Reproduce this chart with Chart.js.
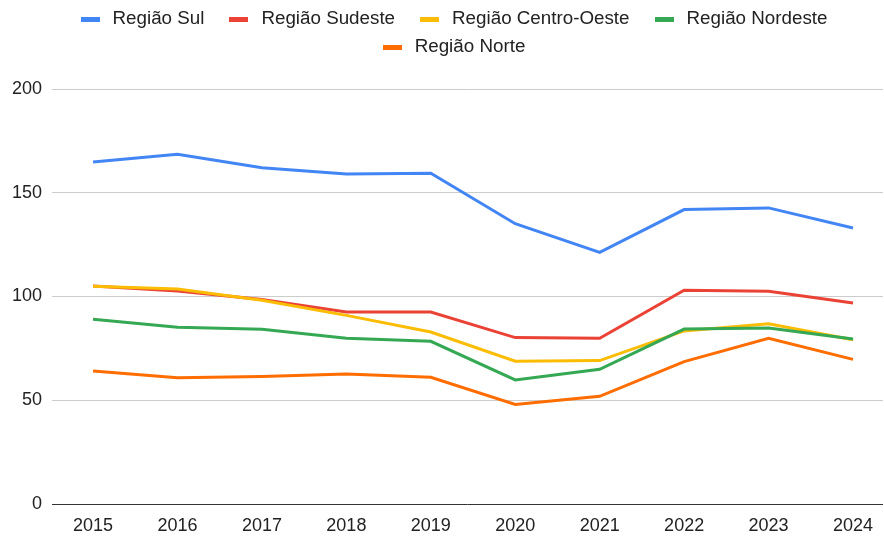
<!DOCTYPE html>
<html>
<head>
<meta charset="utf-8">
<script src="https://cdn.jsdelivr.net/npm/chart.js@4/dist/chart.umd.min.js"></script>
<style>
  body { margin: 0; background: #fff; }
</style>
</head>
<body>
<canvas id="chart" width="884" height="536"></canvas>
<script>
// Anos (eixo X)
const anos = [2015, 2016, 2017, 2018, 2019, 2020, 2021, 2022, 2023, 2024];

// Séries por região
const regiaoSul = [164.8, 168.5, 162.1, 159.0, 159.4, 135.1, 121.3, 141.9, 142.7, 133.0];
const regiaoSudeste = [105.1, 102.7, 98.5, 92.5, 92.5, 80.2, 79.9, 103.0, 102.5, 96.9];
const regiaoCentroOeste = [104.9, 103.6, 98.2, 90.9, 82.9, 68.8, 69.1, 83.4, 86.9, 79.2];
const regiaoNordeste = [89.0, 85.2, 84.2, 79.9, 78.4, 59.8, 64.9, 84.3, 84.8, 79.5];
const regiaoNorte = [64.1, 60.9, 61.4, 62.7, 61.1, 48.0, 51.9, 68.6, 79.9, 69.7];

// Ticks do eixo Y
const ticksY = [0, 50, 100, 150, 200];

const series = [
    { label: 'Região Sul', valores: regiaoSul, cor: '#4285F4' },
    { label: 'Região Sudeste', valores: regiaoSudeste, cor: '#EA4335' },
    { label: 'Região Centro-Oeste', valores: regiaoCentroOeste, cor: '#FBBC04' },
    { label: 'Região Nordeste', valores: regiaoNordeste, cor: '#34A853' },
    { label: 'Região Norte', valores: regiaoNorte, cor: '#FF6D01' }
];

const fonte = '"Liberation Sans", Arial, sans-serif';
Chart.defaults.font.family = fonte;
Chart.defaults.color = '#222';

// Legenda em duas linhas, no estilo do Google Charts
const legendaPlugin = {
    id: 'legendaGoogle',
    afterDraw(chart) {
        const c = chart.ctx;
        const caixaL = 19, caixaA = 5, espacoTexto = 13, espacoItem = 25;
        const larguraMax = chart.width - 60;
        const centro = 454;
        const linhasY = [19, 47];
        c.save();
        c.font = '18.8px ' + fonte;
        c.textBaseline = 'middle';
        // monta as linhas
        const linhas = [[]];
        let largura = 0;
        chart.data.datasets.forEach(ds => {
            const w = caixaL + espacoTexto + c.measureText(ds.label).width;
            const atual = linhas[linhas.length - 1];
            if (atual.length && largura + espacoItem + w > larguraMax) {
                linhas.push([]);
                largura = 0;
            }
            largura += (linhas[linhas.length - 1].length ? espacoItem : 0) + w;
            linhas[linhas.length - 1].push({ ds, w });
        });
        linhas.forEach((linha, li) => {
            const total = linha.reduce((s, it) => s + it.w, 0) + espacoItem * (linha.length - 1);
            let x = centro - total / 2;
            const y = linhasY[li] || (linhasY[0] + li * 28);
            linha.forEach(it => {
                c.fillStyle = it.ds.borderColor;
                c.fillRect(Math.round(x), Math.round(y - caixaA / 2), caixaL, caixaA);
                c.fillStyle = '#222';
                c.fillText(it.ds.label, x + caixaL + espacoTexto, y);
                x += it.w + espacoItem;
            });
        });
        c.restore();
    }
};

const ctx = document.getElementById('chart').getContext('2d');
new Chart(ctx, {
    type: 'line',
    data: {
        datasets: series.map((s, i) => ({
            label: s.label,
            data: anos.map((ano, j) => ({ x: ano, y: s.valores[j] })),
            borderColor: s.cor,
            backgroundColor: s.cor,
            borderWidth: 3,
            pointRadius: 0,
            tension: 0,
            fill: false,
            order: series.length - i // a última série fica por cima
        }))
    },
    plugins: [legendaPlugin],
    options: {
        responsive: false,
        animation: false,
        layout: { padding: { top: 89, right: 1, left: 0, bottom: 0 } },
        plugins: {
            tooltip: { enabled: false },
            legend: { display: false }
        },
        scales: {
            x: {
                type: 'linear',
                min: 2014.514,
                max: 2024.355,
                grid: { display: false },
                border: { display: false },
                ticks: {
                    padding: 3,
                    font: { size: 18 },
                    color: '#222',
                    callback: v => String(v)
                },
                afterBuildTicks: scale => {
                    scale.ticks = anos.map(v => ({ value: v }));
                },
                afterFit: scale => { scale.height = 32; }
            },
            y: {
                min: 0,
                max: 200,
                grid: {
                    drawTicks: false,
                    color: ctx => ctx.tick.value === 0 ? '#333' : '#cccccc',
                    lineWidth: 1
                },
                border: { display: false },
                ticks: { padding: 10, font: { size: 18 }, color: '#222' },
                afterBuildTicks: scale => {
                    scale.ticks = ticksY.map(v => ({ value: v }));
                },
                afterFit: scale => { scale.width = 52; }
            }
        }
    }
});
</script>
</body>
</html>
